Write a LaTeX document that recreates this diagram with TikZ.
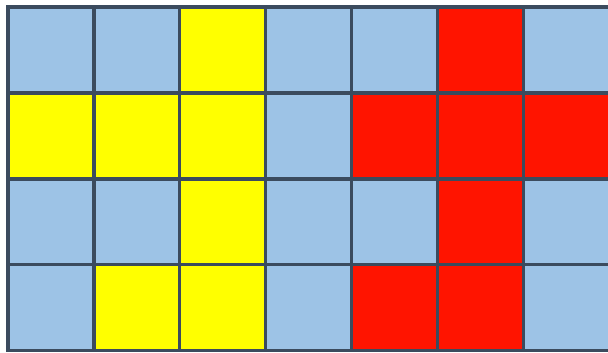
\documentclass[tikz,border=0pt]{standalone}
\usepackage{xcolor}
\usepackage{tikz}
\definecolor{cellblue}{HTML}{9DC3E6}
\definecolor{cellyellow}{HTML}{FFFF00}
\definecolor{cellred}{HTML}{FF1400}
\definecolor{gridline}{HTML}{3B4B5E}
\begin{document}
\begin{tikzpicture}[gridcell/.style={draw=gridline,line width=1.1pt}]
  \clip (-0.093,0.082) rectangle (6.985,-4.025);
  \useasboundingbox (-0.093,0.082) rectangle (6.985,-4.025);
  % row 1
  \foreach \c [count=\i from 0] in {cellblue,cellblue,cellyellow,cellblue,cellblue,cellred,cellblue}
    \fill[\c] (\i,0) rectangle (\i+1,-1);
  % row 2
  \foreach \c [count=\i from 0] in {cellyellow,cellyellow,cellyellow,cellblue,cellred,cellred,cellred}
    \fill[\c] (\i,-1) rectangle (\i+1,-2);
  % row 3
  \foreach \c [count=\i from 0] in {cellblue,cellblue,cellyellow,cellblue,cellblue,cellred,cellblue}
    \fill[\c] (\i,-2) rectangle (\i+1,-3);
  % row 4
  \foreach \c [count=\i from 0] in {cellblue,cellyellow,cellyellow,cellblue,cellred,cellred,cellblue}
    \fill[\c] (\i,-3) rectangle (\i+1,-4);
  \draw[gridcell] (0,0) grid[xstep=1,ystep=1] (7,-4);
  \draw[gridcell] (0,0) rectangle (7,-4);
\end{tikzpicture}
\end{document}
